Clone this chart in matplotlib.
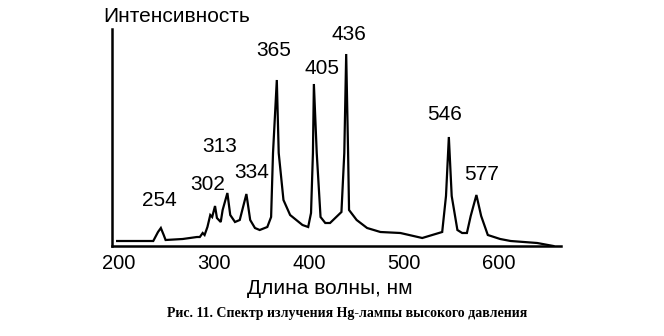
import matplotlib
matplotlib.use("Agg")
import matplotlib.pyplot as plt

# Hg high-pressure lamp spectrum (arbitrary units)
wavelength = [198, 236, 241, 244, 247, 249, 267, 282, 285, 288, 290, 293, 296, 298,
              301, 303, 307, 309, 314, 317, 322, 327, 334, 338, 343, 348, 356, 360,
              362, 366, 368, 373, 380, 393, 399, 402, 404, 405, 408, 412, 417, 422,
              434, 437, 439, 441, 442, 450, 461, 475, 496, 519, 540, 544, 547, 550,
              556, 561, 566, 570, 576, 581, 588, 601, 612, 640, 657]
intensity = [5, 5, 14, 18, 11, 6, 7, 9, 9, 13, 11, 19, 31, 29,
             40, 28, 24, 36, 53, 31, 24, 26, 52, 26, 18, 16, 19, 29,
             93, 166, 93, 46, 31, 21, 19, 33, 93, 162, 93, 29, 23, 23,
             34, 93, 192, 93, 36, 26, 18, 14, 13, 8, 14, 50, 109, 50,
             16, 13, 13, 30, 51, 30, 11, 7, 5, 3, 0]

peak_labels = ["254", "302", "313", "334", "365", "405", "436", "546", "577"]
xticks = [200, 300, 400, 500, 600]

# label centres in data coordinates
label_xy = [(242, 45), (293, 62), (306, 99), (340, 73), (363, 195),
            (414, 177), (442, 212), (543, 131), (581, 72)]

font = "Liberation Sans"

fig = plt.figure(figsize=(6.64, 3.36), dpi=100)
ax = fig.add_axes([112 / 664, 1 - 246 / 336, 449 / 664, 217 / 336])
ax.plot(wavelength, intensity, color="black", lw=1.6, solid_joinstyle="miter")

ax.set_xlim(192.6, 665)
ax.set_ylim(0, 217)
for side in ["top", "right"]:
    ax.spines[side].set_visible(False)
for side in ["left", "bottom"]:
    ax.spines[side].set_linewidth(1.8)
ax.set_yticks([])
ax.set_xticks(xticks)
ax.set_xticklabels([str(t) for t in xticks], fontsize=14.5, family=font)
ax.tick_params(axis="x", length=0, pad=6)

for txt, (lx, ly) in zip(peak_labels, label_xy):
    ax.text(lx, ly, txt, ha="center", va="center", fontsize=15, family=font)

fig.text(103 / 664, 1 - 16 / 336, "Интенсивность", ha="left", va="center",
         fontsize=15, family=font)
fig.text(330 / 664, 1 - 288 / 336, "Длина волны, нм", ha="center", va="center",
         fontsize=15, family=font)
fig.text(347 / 664, 1 - 314 / 336,
         "Рис. 11. Спектр излучения Hg-лампы высокого давления",
         ha="center", va="center", fontsize=10, family="Liberation Serif",
         fontweight="bold")

fig.savefig("out.png", dpi=100)
